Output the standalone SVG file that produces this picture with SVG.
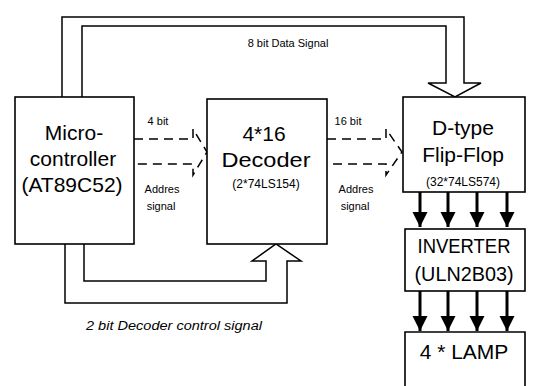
<svg xmlns="http://www.w3.org/2000/svg" width="533" height="386" viewBox="0 0 533 386">
<style>
.box{fill:#fff;stroke:#000;stroke-width:1.6}
.ln{fill:none;stroke:#000;stroke-width:1.5}
.dash{fill:none;stroke:#000;stroke-width:1.5;stroke-dasharray:9 6}
.big{font-family:"Liberation Sans",Arial,sans-serif;font-size:21px;fill:#000;text-anchor:middle}
.sm{font-family:"Liberation Sans",Arial,sans-serif;font-size:12px;fill:#000;text-anchor:middle}
.lbl{font-family:"Liberation Sans",Arial,sans-serif;font-size:11px;fill:#000;text-anchor:middle}
.thk{stroke:#000;stroke-width:3}
</style>
<defs>
<marker id="ah" viewBox="0 0 10 10" refX="10" refY="5" markerWidth="5" markerHeight="6" markerUnits="strokeWidth" orient="auto">
<path d="M0,0 L10,5 L0,10 z" fill="#000"/>
</marker>
</defs>
<rect width="533" height="386" fill="#fff"/>
<g id="connectors">
<path class="ln" d="M62,97 V17 H464 V83 H481 L455,97 L428,83 H446 V26 H82 V97"/>
<path class="dash" d="M134,139 H193 V129 L207,152 L193,175 V164 H134"/>
<path class="dash" d="M327,139 H386 V129 L402,152 L386,175 V164 H327"/>
<path class="ln" d="M65,244 V303 H287 V261 H301 L276,244 L252,261 H266 V281 H84 V244"/>
<line class="thk" x1="420" y1="192" x2="420" y2="227" marker-end="url(#ah)"/>
<line class="thk" x1="448" y1="192" x2="448" y2="227" marker-end="url(#ah)"/>
<line class="thk" x1="477" y1="192" x2="477" y2="227" marker-end="url(#ah)"/>
<line class="thk" x1="507" y1="192" x2="507" y2="227" marker-end="url(#ah)"/>
<line class="thk" x1="420" y1="291" x2="420" y2="331" marker-end="url(#ah)"/>
<line class="thk" x1="448" y1="291" x2="448" y2="331" marker-end="url(#ah)"/>
<line class="thk" x1="477" y1="291" x2="477" y2="331" marker-end="url(#ah)"/>
<line class="thk" x1="507" y1="291" x2="507" y2="331" marker-end="url(#ah)"/>
<text class="lbl" x="288" y="47">8 bit Data Signal</text>
<text class="lbl" x="158" y="125">4 bit</text>
<text class="lbl" x="162" y="193">Addres</text>
<text class="lbl" x="161" y="210">signal</text>
<text class="lbl" x="348" y="125">16 bit</text>
<text class="lbl" x="356" y="193">Addres</text>
<text class="lbl" x="355" y="210">signal</text>
<text class="sm" x="174" y="330" font-style="italic" font-size="13" textLength="176" lengthAdjust="spacingAndGlyphs">2 bit Decoder control signal</text>
</g>
<g id="micro">
<rect class="box" x="15" y="97" width="119" height="147"/>
<text class="big" x="74" y="140">Micro-</text>
<text class="big" x="73" y="166">controller</text>
<text class="big" x="72" y="192">(AT89C52)</text>
</g>
<g id="decoder">
<rect class="box" x="207" y="99" width="120" height="145"/>
<text class="big" x="264" y="141">4*16</text>
<text class="big" x="266" y="167" textLength="89" lengthAdjust="spacingAndGlyphs">Decoder</text>
<text class="sm" x="266" y="188">(2*74LS154)</text>
</g>
<g id="flipflop">
<rect class="box" x="403" y="97" width="122" height="95"/>
<text class="big" x="463" y="135">D-type</text>
<text class="big" x="463" y="162">Flip-Flop</text>
<text class="sm" x="463" y="186">(32*74LS574)</text>
</g>
<g id="inverter">
<rect class="box" x="405" y="229" width="120" height="62"/>
<text class="big" x="464" y="253" textLength="93" lengthAdjust="spacingAndGlyphs">INVERTER</text>
<text class="big" x="464" y="281" textLength="99" lengthAdjust="spacingAndGlyphs">(ULN2B03)</text>
</g>
<g id="lamp">
<path class="box" d="M405,388 V332 H525 V388"/>
<text class="big" x="464" y="359">4 * LAMP</text>
</g>
</svg>
